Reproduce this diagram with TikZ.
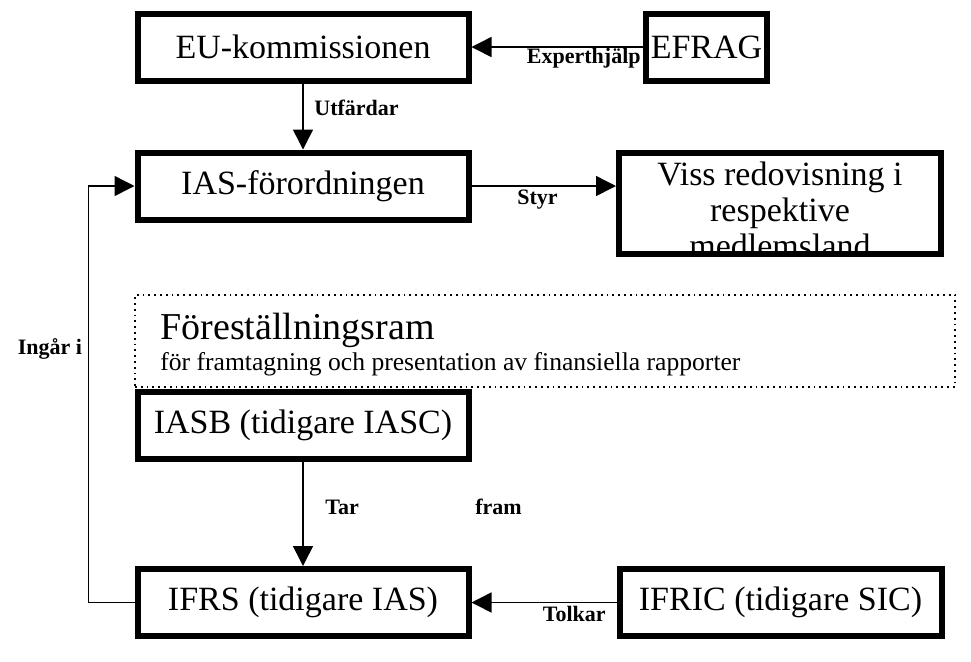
\documentclass[tikz,border=0pt]{standalone}
\usepackage{fontspec}
\setmainfont{Liberation Serif}
\usetikzlibrary{arrows.meta}

\tikzset{
  box/.style={draw, line width=3pt, inner sep=0pt, font=\fontsize{17}{17}\selectfont},
  frame/.style={draw, dotted, line width=0.9pt, inner sep=0pt},
  lbl/.style={inner sep=0pt, font=\fontsize{11}{11}\selectfont\bfseries},
  link/.style={line width=0.75pt, -{Triangle[length=10pt,width=10pt]}},
}

\begin{document}
\begin{tikzpicture}[x=0.5pt,y=-0.5pt]
  \useasboundingbox (0,0) rectangle (971,661);
  % boxes
  \node[box, minimum width=165.5pt, minimum height=33.5pt] (eu) at (303,47) {EU-kommissionen};
  \node[box, minimum width=60.5pt, minimum height=33.5pt] (efrag) at (706.5,47) {EFRAG};
  \node[box, minimum width=165.5pt, minimum height=33.5pt] (ias) at (303,186) {IAS-förordningen};
  \node[box, minimum width=161pt, minimum height=50.5pt] (viss) at (780,203.5) {};
  \begin{scope}
    \clip ([shift={(3,-3)}]viss.south west) rectangle ([shift={(-3,3)}]viss.north east);
    \node[align=center, inner sep=0pt, anchor=north, font=\fontsize{17}{18}\selectfont] (vissText) at (780,161) {Viss redovisning i\\respektive\\medlemsland};
  \end{scope}
  \node[frame, minimum width=410pt, minimum height=46pt] (ram) at (545,341) {};
  \node[anchor=west, inner sep=0pt, font=\fontsize{19}{19}\selectfont] (ramTitle) at (160,330) {Föreställningsram};
  \node[anchor=west, inner sep=0pt, font=\fontsize{12.8}{13}\selectfont] (ramSub) at (160,364) {för framtagning och presentation av finansiella rapporter};
  \node[box, minimum width=165.5pt, minimum height=33.5pt] (iasb) at (303,425) {IASB (tidigare IASC)};
  \node[box, minimum width=165.5pt, minimum height=33.5pt] (ifrs) at (303,602.5) {IFRS (tidigare IAS)};
  \node[box, minimum width=161pt, minimum height=33.5pt] (ifric) at (780.5,602.5) {IFRIC (tidigare SIC)};

  % connectors
  \draw[link] (efrag.west) -- (eu.east);
  \node[lbl, anchor=east] (lExpert) at (641,58) {Experthjälp};
  \draw[link] (eu.south) -- (ias.north);
  \node[lbl, anchor=west] (lUtf) at (314,108) {Utfärdar};
  \draw[link] (ias.east) -- (ias.east -| viss.west);
  \node[lbl, anchor=west] (lStyr) at (517,200) {Styr};
  \draw[link] (iasb.south) -- (ifrs.north);
  \node[lbl, anchor=west] (lTar) at (325,507) {Tar};
  \node[lbl, anchor=west] (lFram) at (475,507) {fram};
  \draw[link] (ifric.west) -- (ifrs.east);
  \node[lbl, anchor=east] (lTolk) at (606,614) {Tolkar};
  \draw[link] (ifrs.west) -- ++(-46,0) |- (ias.west);
  \node[lbl] (lIngar) at (50,349) {Ingår i};
\end{tikzpicture}
\end{document}
